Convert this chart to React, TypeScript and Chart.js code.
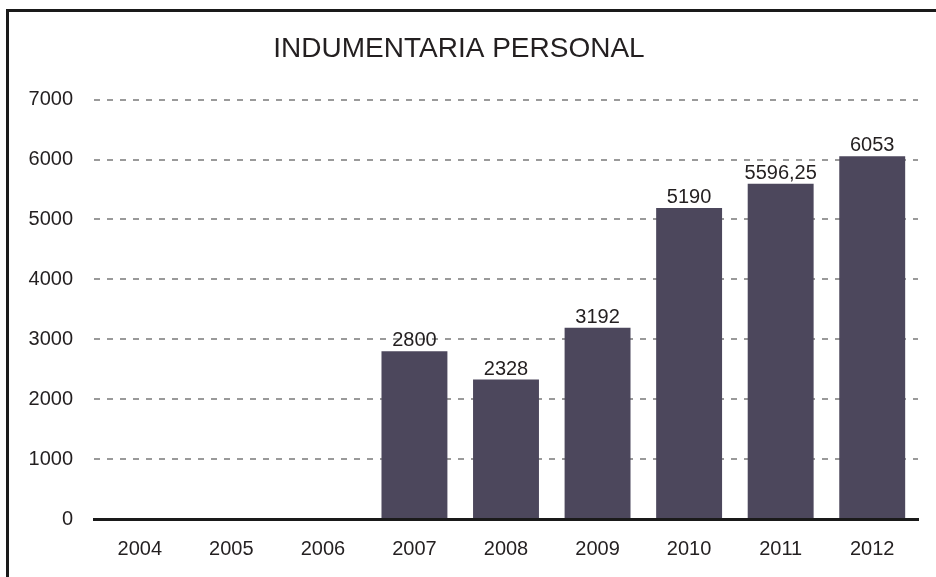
import React, { useEffect, useRef } from "react";
import { Chart, registerables } from "chart.js";

Chart.register(...registerables);

const categories = ["2004", "2005", "2006", "2007", "2008", "2009", "2010", "2011", "2012"];
const values: (number | null)[] = [null, null, null, 2800, 2328, 3192, 5190, 5596.25, 6053];
const yTicks = [0, 1000, 2000, 3000, 4000, 5000, 6000, 7000];
const title = "INDUMENTARIA PERSONAL";

const FONT = "'Liberation Sans', Arial, sans-serif";
const TEXT = "#231f20";

const valueLabels = {
  id: "valueLabels",
  afterDatasetsDraw(chart: any) {
    const ctx = chart.ctx;
    const meta = chart.getDatasetMeta(0);
    ctx.save();
    ctx.font = `20px ${FONT}`;
    ctx.fillStyle = TEXT;
    ctx.textAlign = "center";
    ctx.textBaseline = "alphabetic";
    meta.data.forEach((bar: any, i: number) => {
      const v = values[i];
      if (v == null) return;
      const txt = String(v).replace(".", ",");
      ctx.fillText(txt, bar.x, bar.y - 5);
    });
    ctx.restore();
  },
};

export default function App() {
  const ref = useRef<HTMLCanvasElement | null>(null);
  useEffect(() => {
    if (!ref.current) return;
    const chart = new Chart(ref.current, {
      type: "bar",
      data: {
        labels: categories,
        datasets: [
          {
            data: values,
            backgroundColor: "#4c475c",
            borderWidth: 0,
            barPercentage: 0.72,
            categoryPercentage: 1,
          },
        ],
      },
      options: {
        responsive: false,
        animation: false,
        layout: { padding: { left: 0, right: 18, top: 0, bottom: 0 } },
        plugins: {
          legend: { display: false },
          tooltip: { enabled: false },
          title: {
            display: true,
            text: title,
            color: TEXT,
            font: { family: FONT, size: 28, weight: "normal" },
            padding: { top: 32, bottom: 34 },
          },
        },
        scales: {
          x: {
            grid: { display: false, drawTicks: false },
            border: { display: true, color: "#1a1a1a", width: 3 },
            ticks: { color: TEXT, font: { family: FONT, size: 20 }, padding: 18 },
            afterFit: (s: any) => {
              s.height = 58;
            },
          },
          y: {
            min: 0,
            max: 7000,
            afterBuildTicks: (s: any) => {
              s.ticks = yTicks.map((v) => ({ value: v }));
            },
            grid: {
              drawTicks: false,
              color: (c: any) => (c.tick && c.tick.value === 0 ? "rgba(0,0,0,0)" : "#9a9a9a"),
              lineWidth: 2,
            },
            border: { display: false, dash: [6, 7] },
            ticks: {
              color: TEXT,
              font: { family: FONT, size: 20 },
              padding: 21,
              callback: (v: any) => String(v),
            },
            afterFit: (s: any) => {
              s.width = 94;
            },
          },
        },
      },
      plugins: [valueLabels],
    });
    return () => chart.destroy();
  }, []);

  return (
    <div style={{ position: "fixed", left: 0, top: 0, width: 936, height: 577, overflow: "hidden", background: "#fff" }}>
      <div
        style={{
          position: "absolute",
          left: 6,
          top: 9,
          width: 1000,
          height: 700,
          borderLeft: "3px solid #1a1a1a",
          borderTop: "3px solid #1a1a1a",
        }}
      />
      <canvas ref={ref} width={936} height={577} style={{ position: "absolute", left: 0, top: 0 }} />
    </div>
  );
}
